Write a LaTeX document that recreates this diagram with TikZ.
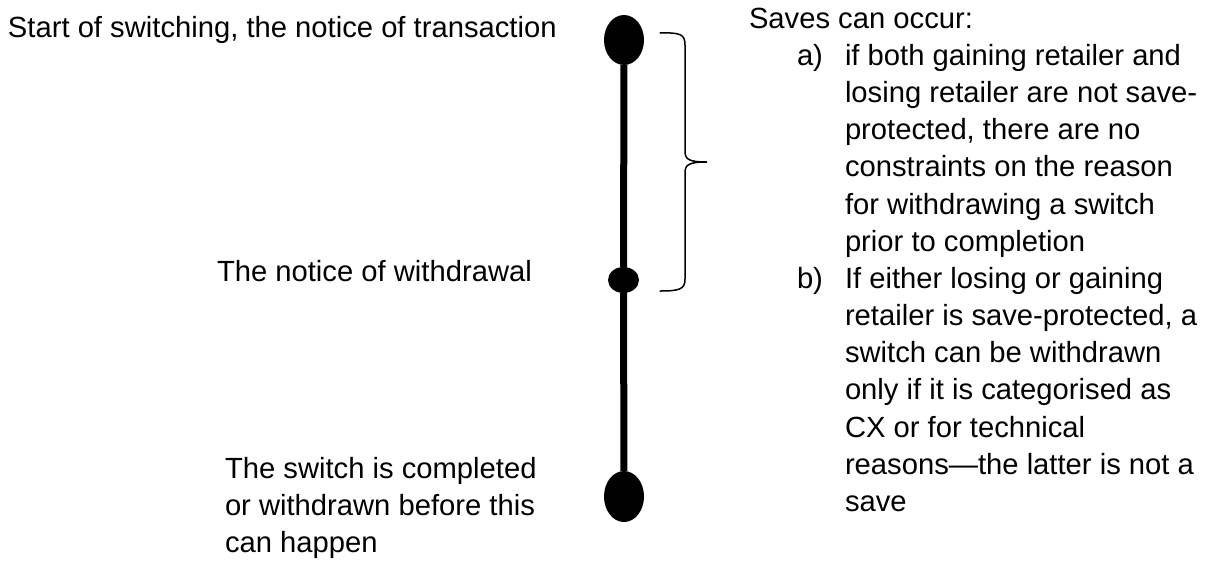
\documentclass[tikz,border=0pt]{standalone}
\usepackage{fontspec}
\setmainfont{Liberation Sans}
\usetikzlibrary{shapes.geometric}

\begin{document}
\begin{tikzpicture}[x=1pt,y=-1pt,
  txt/.style={anchor=base west,inner sep=0pt,outer sep=0pt,align=left,
    font=\fontsize{29.2}{37.3}\selectfont},
  dot/.style={ellipse,fill=black,draw=none,inner sep=0pt},
  bar/.style={line width=7pt,black},
  brace/.style={line width=1.5pt,black,line cap=round}]
  \useasboundingbox (0,0) rectangle (1209,563);

  % timeline points
  \node[dot,minimum width=40,minimum height=50] (start) at (624,40) {};
  \node[dot,minimum width=31,minimum height=26] (withdraw) at (623.5,280) {};
  \node[dot,minimum width=40,minimum height=51] (done) at (624,496.5) {};
  \draw[bar] (start) -- (withdraw) -- (done);

  % bracket spanning the save window
  \coordinate (brTop) at (660,33);
  \coordinate (brTip) at (707,162);
  \coordinate (brBot) at (660,291);
  \draw[brace] (brTop) .. controls (680,32.5) and (685,34) .. (685,45)
    -- (685,151) .. controls (685,159) and (688,162) .. (brTip)
    .. controls (688,162) and (685,165) .. (685,173)
    -- (685,279) .. controls (685,289) and (680,291) .. (brBot);

  % labels beside the timeline (multi-line nodes sit on their last baseline)
  \node[txt] (lblStart) at (8,37.7) {Start of switching, the notice of transaction};
  \node[txt] (lblWithdraw) at (217,281.7) {The notice of withdrawal};
  \node[txt] (lblDone) at (225,552.6) {The switch is completed\\or withdrawn before this\\can happen};

  % conditions for saves
  \node[txt] (saves) at (749,28) {Saves can occur:};
  \node[txt] (itemA) at (797,65) {a)};
  \node[txt] (textA) at (845,251.5) {if both gaining retailer and\\losing retailer are not save-\\protected, there are no\\constraints on the reason\\for withdrawing a switch\\prior to completion};
  \node[txt] (itemB) at (797,288) {b)};
  \node[txt] (textB) at (845,511.8) {If either losing or gaining\\retailer is save-protected, a\\switch can be withdrawn\\only if it is categorised as\\CX or for technical\\reasons---the latter is not a\\save};
\end{tikzpicture}
\end{document}
